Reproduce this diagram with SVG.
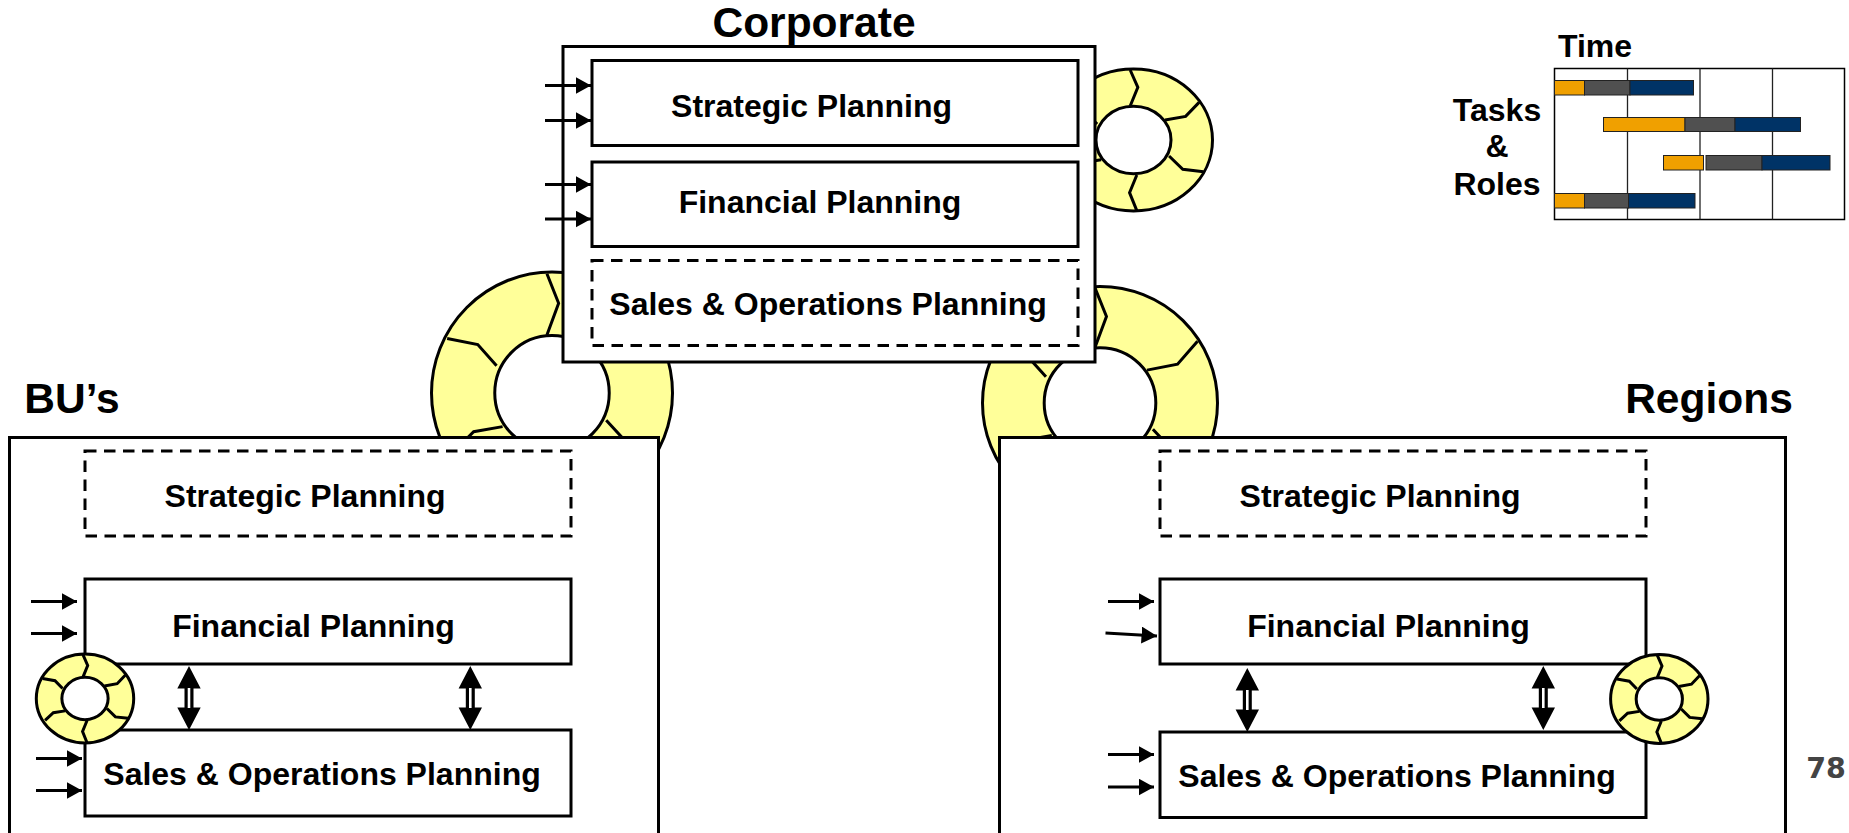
<svg xmlns="http://www.w3.org/2000/svg" xmlns:xlink="http://www.w3.org/1999/xlink" width="1849" height="833" viewBox="0 0 1849 833">
<style>
text{font-family:"Liberation Sans",Arial,sans-serif;font-weight:700;fill:#000;text-anchor:middle}
.h{font-size:42.5px}.t{font-size:32px}
.box{fill:#fff;stroke:#000;stroke-width:3}
.dash{fill:#fff;stroke:#000;stroke-width:3;stroke-dasharray:11.500 7.500}
.ring{fill:#ffff99;stroke:#000;stroke-width:3;fill-rule:evenodd;vector-effect:non-scaling-stroke}
.gl{fill:none;stroke:#000;stroke-width:3;vector-effect:non-scaling-stroke}
.c{fill:none;stroke:#000;stroke-width:3}
.grid{stroke:#222;stroke-width:1.300;fill:none}
.o{fill:#f0a000;stroke:#222;stroke-width:1}.g{fill:#505050;stroke:#222;stroke-width:1}.b{fill:#003366;stroke:#222;stroke-width:1}
</style>
<defs>
<marker id="ah" markerUnits="userSpaceOnUse" markerWidth="16" markerHeight="17" refX="15.500" refY="8.500" orient="auto"><path d="M0 0L15.500 8.500L0 17Z" fill="#000"/></marker>
<symbol id="gear" viewBox="-1 -1 2 2" overflow="visible" preserveAspectRatio="none">
<path class="ring" d="M-1 0A1 1 0 1 1 1 0A1 1 0 1 1 -1 0ZM-.475 0A.475 .475 0 1 0 .475 0A.475 .475 0 1 0 -.475 0Z"/>
<path class="gl" d="M-.042 -.986L.055 -.742L-.042 -.479M.83 -.53L.66 -.333L.40 -.282M.886 .446L.624 .413L.45 .225M.042 .493L-.05 .742L.042 .995M-.82 .49L-.65 .32L-.41 .278M-.87 -.45L-.616 -.40L-.46 -.225"/>
</symbol>
</defs>
<g id="gear-corporate-left"><use href="#gear" x="431.500" y="272" width="241" height="242"/></g>
<g id="gear-corporate-right"><use href="#gear" x="982.500" y="286.500" width="235" height="233"/></g>
<g id="gear-corporate-top"><use href="#gear" x="1054.500" y="69" width="158" height="142"/></g>

<g id="corporate"><rect class="box" x="563" y="46.500" width="532" height="315.500"/>
<text class="h" x="814" y="37">Corporate</text></g>
<g id="corp-strategic"><rect class="box" x="592" y="60.500" width="486" height="85"/><text class="t" x="811.500" y="117">Strategic Planning</text></g>
<g id="corp-financial"><rect class="box" x="592" y="162" width="486" height="84.500"/><text class="t" x="820" y="213">Financial Planning</text></g>
<g id="corp-sop"><rect class="dash" x="592" y="260.500" width="486" height="85"/><text class="t" x="828" y="315">Sales &amp; Operations Planning</text></g>

<g id="bu"><rect class="box" x="9.500" y="437.500" width="649" height="410"/>
<text class="h" x="72" y="413">BU’s</text></g>
<g id="bu-strategic"><rect class="dash" x="85" y="451" width="486" height="85"/><text class="t" x="305" y="507">Strategic Planning</text></g>
<g id="bu-financial"><rect class="box" x="85" y="579" width="486" height="85"/><text class="t" x="313.500" y="637">Financial Planning</text></g>
<g id="bu-sop"><rect class="box" x="85" y="730" width="486" height="86"/><text class="t" x="322" y="785">Sales &amp; Operations Planning</text></g>

<g id="regions"><rect class="box" x="999.500" y="437.500" width="786" height="410"/>
<text class="h" x="1709" y="413">Regions</text></g>
<g id="reg-strategic"><rect class="dash" x="1160" y="451" width="486" height="85"/><text class="t" x="1380" y="507">Strategic Planning</text></g>
<g id="reg-financial"><rect class="box" x="1160" y="579" width="486" height="85"/><text class="t" x="1388.500" y="637">Financial Planning</text></g>
<g id="reg-sop"><rect class="box" x="1160" y="732" width="486" height="85.500"/><text class="t" x="1397" y="787">Sales &amp; Operations Planning</text></g>

<g id="connectors">
<path class="c" marker-end="url(#ah)" d="M545 85.500H591"/><path class="c" marker-end="url(#ah)" d="M545 120.500H591"/>
<path class="c" marker-end="url(#ah)" d="M545 184.500H591"/><path class="c" marker-end="url(#ah)" d="M545 219H591"/>
<path class="c" marker-end="url(#ah)" d="M31 601.500H77"/><path class="c" marker-end="url(#ah)" d="M31 633.500H77"/>
<path class="c" marker-end="url(#ah)" d="M36 758.500H82"/><path class="c" marker-end="url(#ah)" d="M36 790.500H82"/>
<path class="c" marker-end="url(#ah)" d="M1108 601.500H1154"/><path class="c" marker-end="url(#ah)" d="M1105.500 633L1157 636"/>
<path class="c" marker-end="url(#ah)" d="M1108 754.500H1154"/><path class="c" marker-end="url(#ah)" d="M1108 787H1154"/>
<g id="dbl"><path d="M189 666L200.700 688.500H193.500V707.500H200.700L189 730L177.300 707.500H184.500V688.500H177.300Z" fill="#000"/><path d="M187.700 688V708H190.300V688Z" fill="#fff"/></g>
<use href="#dbl" x="281.300"/><use href="#dbl" x="1058.300" y="2"/><use href="#dbl" x="1354.300"/>
</g>

<g id="gear-bu"><use href="#gear" x="36.300" y="654" width="97.400" height="89"/></g>
<g id="gear-regions"><use href="#gear" x="1610.600" y="654.500" width="97.400" height="89"/></g>

<g id="gantt">
<rect x="1554.500" y="68.500" width="290" height="151" fill="#fff" stroke="#000" stroke-width="1.500"/>
<path class="grid" d="M1627.500 68.500V219.500M1700 68.500V219.500M1772.500 68.500V219.500"/>
<rect class="o" x="1554.500" y="80.500" width="30" height="14.500"/><rect class="g" x="1584.500" y="80.500" width="45.500" height="14.500"/><rect class="b" x="1630" y="80.500" width="63.500" height="14.500"/>
<rect class="o" x="1603.500" y="117.500" width="81.500" height="14"/><rect class="g" x="1685" y="117.500" width="50" height="14"/><rect class="b" x="1735" y="117.500" width="65.500" height="14"/>
<rect class="o" x="1663.500" y="155.500" width="40" height="14.500"/><rect class="g" x="1706" y="155.500" width="56" height="14.500"/><rect class="b" x="1762" y="155.500" width="68" height="14.500"/>
<rect class="o" x="1554.500" y="193.500" width="30" height="14.500"/><rect class="g" x="1584.500" y="193.500" width="44" height="14.500"/><rect class="b" x="1628.500" y="193.500" width="66.500" height="14.500"/>
<text class="t" x="1595" y="57">Time</text>
<text class="t" x="1497" y="121">Tasks</text><text class="t" x="1497" y="157">&amp;</text><text class="t" x="1497" y="195">Roles</text>
</g>
<text x="1826" y="778" style="font-family:'DejaVu Sans',sans-serif;font-size:28.500px;fill:#444">78</text>
</svg>
